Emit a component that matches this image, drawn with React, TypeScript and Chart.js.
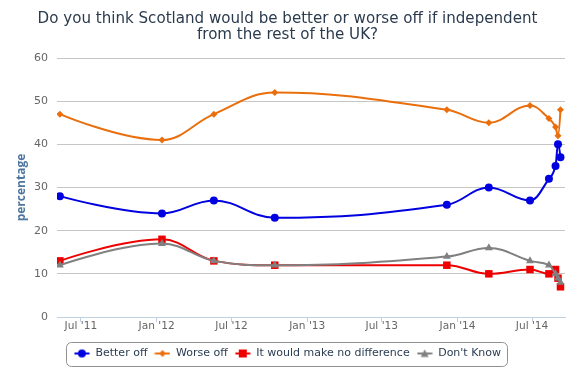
import React, { useEffect, useRef } from 'react';
import { Chart, registerables } from 'chart.js';

Chart.register(...registerables);

const titleLines = [
  'Do you think Scotland would be better or worse off if independent',
  'from the rest of the UK?',
];
const yAxisTitle = 'percentage';

const pollDates = [
  '2011-05-11', '2012-01-14', '2012-05-19', '2012-10-14', '2013-12-06',
  '2014-03-18', '2014-06-26', '2014-08-11', '2014-08-27', '2014-09-02', '2014-09-08',
];
const betterOff = [28, 24, 27, 23, 26, 30, 27, 32, 35, 40, 37];
const worseOff = [47, 41, 47, 52, 48, 45, 49, 46, 44, 42, 48];
const noDifference = [13, 18, 13, 12, 12, 10, 11, 10, 11, 9, 7];
const dontKnow = [12, 17, 13, 12, 14, 16, 13, 12, 10, 9, 8];

const seriesNames = ['Better off', 'Worse off', 'It would make no difference', "Don't Know"];
const seriesColors = ['#0000e0', '#ea6f0c', '#ee0000', '#808080'];

const xTickDates = ['2011-07-01', '2012-01-01', '2012-07-01', '2013-01-01', '2013-07-01', '2014-01-01', '2014-07-01'];
const xTickLabels = ["Jul '11", "Jan '12", "Jul '12", "Jan '13", "Jul '13", "Jan '14", "Jul '14"];
const xRange = ['2011-05-04', '2014-09-19'];
const yRange = [0, 60];
const yStep = 10;

const FONT = '"DejaVu Sans", "Open Sans", sans-serif';
const TITLE_FONT = '"Open Sans", "DejaVu Sans", sans-serif';
const ts = (d: string) => Date.parse(d + 'T00:00:00Z');

// Highcharts-like spline control points
const hcSpline = {
  id: 'hcSpline',
  beforeDatasetDraw(chart: any, args: any) {
    const meta = args.meta;
    const line = meta.dataset;
    if (!line || !line.updateControlPoints) return;
    line.updateControlPoints(chart.chartArea, meta.iScale ? meta.iScale.axis : 'x');
    const pts = meta.data;
    const n = pts.length;
    const s = 1.5;
    const d = s + 1;
    for (let i = 0; i < n; i++) {
      const p = pts[i];
      if (i === 0 || i === n - 1) {
        p.cp1x = p.x; p.cp1y = p.y; p.cp2x = p.x; p.cp2y = p.y;
        continue;
      }
      const a = pts[i - 1];
      const b = pts[i + 1];
      const lx = (s * p.x + a.x) / d;
      let ly = (s * p.y + a.y) / d;
      const rx = (s * p.x + b.x) / d;
      let ry = (s * p.y + b.y) / d;
      const corr = ((ry - ly) * (rx - p.x)) / (rx - lx) + p.y - ry;
      ly += corr;
      ry += corr;
      if (ly > a.y && ly > p.y) { ly = Math.max(a.y, p.y); ry = 2 * p.y - ly; }
      else if (ly < a.y && ly < p.y) { ly = Math.min(a.y, p.y); ry = 2 * p.y - ly; }
      if (ry > b.y && ry > p.y) { ry = Math.max(b.y, p.y); ly = 2 * p.y - ry; }
      else if (ry < b.y && ry < p.y) { ry = Math.min(b.y, p.y); ly = 2 * p.y - ry; }
      p.cp1x = lx; p.cp1y = ly; p.cp2x = rx; p.cp2y = ry;
    }
  },
};

const legendBox = {
  id: 'legendBox',
  afterDraw(chart: any) {
    const lg = chart.legend;
    if (!lg || !lg.legendHitBoxes || !lg.legendHitBoxes.length) return;
    const hb = lg.legendHitBoxes;
    const first = hb[0];
    const last = hb[hb.length - 1];
    const cy = first.top + first.height / 2;
    const left = Math.round(first.left - 7.5) + 0.5;
    const right = Math.round(last.left + last.width + 6) + 0.5;
    const top = Math.round(cy - 12) + 0.5;
    const bottom = Math.round(cy + 12.5) + 0.5;
    const r = 5;
    const ctx = chart.ctx;
    ctx.save();
    ctx.strokeStyle = '#909090';
    ctx.lineWidth = 1;
    ctx.beginPath();
    ctx.moveTo(left + r, top);
    ctx.lineTo(right - r, top);
    ctx.arcTo(right, top, right, top + r, r);
    ctx.lineTo(right, bottom - r);
    ctx.arcTo(right, bottom, right - r, bottom, r);
    ctx.lineTo(left + r, bottom);
    ctx.arcTo(left, bottom, left, bottom - r, r);
    ctx.lineTo(left, top + r);
    ctx.arcTo(left, top, left + r, top, r);
    ctx.closePath();
    ctx.stroke();
    ctx.restore();
  },
};

function makeIcon(color: string, shape: string) {
  const c = document.createElement('canvas');
  c.width = 16;
  c.height = 12;
  const g = c.getContext('2d') as CanvasRenderingContext2D;
  g.strokeStyle = color;
  g.fillStyle = color;
  g.lineWidth = 2;
  g.beginPath();
  g.moveTo(0.5, 6);
  g.lineTo(15.5, 6);
  g.stroke();
  g.beginPath();
  if (shape === 'circle') {
    g.arc(8, 6, 4, 0, Math.PI * 2);
  } else if (shape === 'diamond') {
    g.moveTo(8, 2.5); g.lineTo(11.5, 6); g.lineTo(8, 9.5); g.lineTo(4.5, 6);
  } else if (shape === 'square') {
    g.rect(4, 2, 8, 8);
  } else {
    g.moveTo(8, 2); g.lineTo(12, 9.5); g.lineTo(4, 9.5);
  }
  g.closePath();
  g.fill();
  return c;
}

export default function App() {
  const ref = useRef<HTMLCanvasElement | null>(null);

  useEffect(() => {
    if (!ref.current) return;
    const icons = [
      makeIcon(seriesColors[0], 'circle'),
      makeIcon(seriesColors[1], 'diamond'),
      makeIcon(seriesColors[2], 'square'),
      makeIcon(seriesColors[3], 'triangle'),
    ];
    const xs = pollDates.map(ts);
    const series = [betterOff, worseOff, noDifference, dontKnow];
    const styles = ['circle', 'rectRot', 'rect', 'triangle'];
    const radii = [4, 3.5, 5.3, 4.6];
    const tickVals = xTickDates.map(ts);

    const chart = new Chart(ref.current, {
      type: 'line',
      data: {
        datasets: series.map((vals, i) => ({
          label: seriesNames[i],
          data: vals.map((v, j) => ({ x: xs[j], y: v })),
          borderColor: seriesColors[i],
          backgroundColor: seriesColors[i],
          borderWidth: 2,
          pointStyle: styles[i],
          pointRadius: radii[i],
          pointBackgroundColor: seriesColors[i],
          pointBorderWidth: 0,
          tension: 0.4,
          fill: false,
          order: 4 - i,
        })),
      },
      options: {
        animation: false,
        responsive: true,
        maintainAspectRatio: false,
        layout: { padding: { left: 0, right: 0, top: 0, bottom: 11 } },
        plugins: {
          title: {
            display: true,
            text: titleLines,
            color: '#2b3b4e',
            font: { family: FONT, size: 15.1, weight: 'normal', lineHeight: 1.06 },
            padding: { top: 11, bottom: 15 },
          },
          legend: {
            position: 'bottom',
            labels: {
              usePointStyle: true,
              pointStyleWidth: 16,
              boxHeight: 11,
              padding: 7,
              color: '#2a3c52',
              font: { family: FONT, size: 11 },
              sort: (a: any, b: any) => a.datasetIndex - b.datasetIndex,
              generateLabels: (c: any) => {
                const base = Chart.defaults.plugins.legend.labels.generateLabels(c);
                return base.map((l: any) => ({ ...l, pointStyle: icons[l.datasetIndex] }));
              },
            },
          },
          tooltip: { enabled: false },
        },
        scales: {
          x: {
            type: 'linear',
            min: ts(xRange[0]),
            max: ts(xRange[1]),
            afterBuildTicks: (scale: any) => {
              scale.ticks = tickVals.map((value) => ({ value }));
            },
            afterFit: (scale: any) => {
              scale.height = 24;
            },
            ticks: {
              autoSkip: false,
              maxRotation: 0,
              color: '#666666',
              padding: -2,
              font: { family: FONT, size: 10.6 },
              callback: (_v: any, idx: number) => xTickLabels[idx],
            },
            grid: {
              display: true,
              drawOnChartArea: false,
              drawTicks: true,
              tickLength: 5,
              color: '#c0d0e0',
            },
            border: { display: true, color: '#c0d0e0' },
          },
          y: {
            min: yRange[0],
            max: yRange[1],
            afterFit: (scale: any) => {
              scale.width = 57;
            },
            ticks: {
              stepSize: yStep,
              color: '#666666',
              padding: 9,
              font: { family: FONT, size: 11 },
            },
            grid: { color: '#c6c6c6', lineWidth: 1, drawTicks: false },
            border: { display: false },
            title: {
              display: true,
              text: yAxisTitle,
              color: '#4d759e',
              font: { family: TITLE_FONT, size: 12, weight: 'bold' },
              padding: { top: 14, bottom: 0 },
            },
          },
          rightSpace: {
            type: 'linear',
            position: 'right',
            display: true,
            min: yRange[0],
            max: yRange[1],
            afterFit: (scale: any) => {
              scale.width = 10;
            },
            ticks: { display: false },
            grid: { display: false, drawTicks: false },
            border: { display: false },
          },
        },
      },
      plugins: [hcSpline, legendBox],
    });
    return () => chart.destroy();
  }, []);

  return (
    <div style={{ position: 'fixed', left: 0, top: 0, width: 575, height: 380, background: '#ffffff' }}>
      <canvas ref={ref} />
    </div>
  );
}
